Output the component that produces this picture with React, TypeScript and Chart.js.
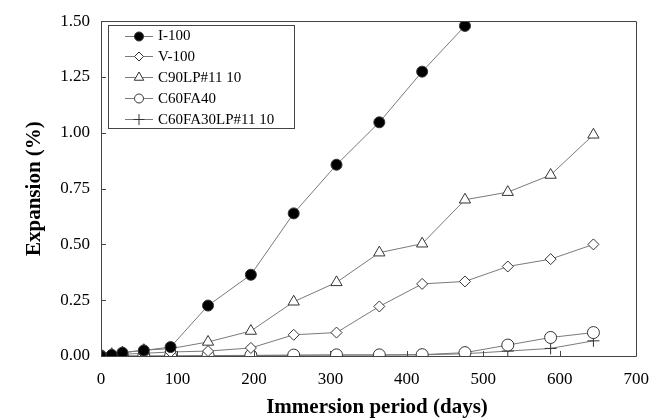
import React, { useEffect, useRef } from "react";
import { Chart, registerables } from "chart.js";
import { drawPoint } from "chart.js/helpers";

Chart.register(...registerables);

// ---- data ----
const days = [0, 14, 28, 56, 91, 140, 196, 252, 308, 364, 420, 476, 532, 588, 644];
const seriesNames = ["I-100", "V-100", "C90LP#11 10", "C60FA40", "C60FA30LP#11 10"];
const i100 = [0, 0.005, 0.015, 0.025, 0.04, 0.226, 0.364, 0.639, 0.857, 1.047, 1.274, 1.479];
const v100 = [0, 0.004, 0.008, 0.012, 0.018, 0.022, 0.036, 0.095, 0.105, 0.222, 0.323, 0.334, 0.401, 0.434, 0.5];
const c90lp = [0, 0.008, 0.015, 0.026, 0.033, 0.063, 0.112, 0.243, 0.33, 0.463, 0.503, 0.7, 0.734, 0.811, 0.991];
const c60fa40 = [0, 0, 0, 0, 0, 0.002, 0.003, 0.004, 0.005, 0.005, 0.006, 0.015, 0.049, 0.083, 0.105];
const c60fa30lp = [0, 0, 0, 0, 0, 0.001, 0.002, 0.003, 0.004, 0.004, 0.005, 0.01, 0.022, 0.034, 0.068];
const xTicks = [0, 100, 200, 300, 400, 500, 600, 700];
const yTicks = [0, 0.25, 0.5, 0.75, 1.0, 1.25, 1.5];
const xTitle = "Immersion period (days)";
const yTitle = "Expansion (%)";

const FONT = "'Liberation Serif', 'Times New Roman', serif";
const LINE = "#7a7a7a";
const EDGE = "#333333";

function toPoints(vals: number[]) {
  return vals.map((v, i) => ({ x: days[i], y: v }));
}

const styles = [
  { pointStyle: "circle", radius: 5.5, bg: "#000000", legendR: 4.5 },
  { pointStyle: "rectRot", radius: 5.5, bg: "#ffffff", legendR: 4.5 },
  { pointStyle: "triangle", radius: 6.5, bg: "#ffffff", legendR: 5.5 },
  { pointStyle: "circle", radius: 6, bg: "#ffffff", legendR: 4.5 },
  { pointStyle: "cross", radius: 6, bg: "#ffffff", legendR: 5.5 },
];

const frameAndTicks = {
  id: "frameAndTicks",
  afterDatasetsDraw(chart: any) {
    const { ctx, chartArea } = chart;
    const { left, right, top, bottom } = chartArea;
    const xs = chart.scales.x;
    const ys = chart.scales.y;
    ctx.save();
    ctx.strokeStyle = "#444444";
    ctx.lineWidth = 1;
    ctx.beginPath();
    ctx.rect(Math.round(left) + 0.5, Math.round(top) + 0.5, Math.round(right - left), Math.round(bottom - top));
    ctx.stroke();
    ctx.beginPath();
    for (const t of xTicks) {
      const px = Math.round(xs.getPixelForValue(t)) + 0.5;
      ctx.moveTo(px, bottom);
      ctx.lineTo(px, bottom - 5);
    }
    for (const t of yTicks) {
      const py = Math.round(ys.getPixelForValue(t)) + 0.5;
      ctx.moveTo(left, py);
      ctx.lineTo(left + 5, py);
    }
    ctx.stroke();
    ctx.restore();
  },
  afterDraw(chart: any) {
    const { ctx } = chart;
    ctx.save();
    // x axis title
    ctx.font = `bold 21px ${FONT}`;
    ctx.fillStyle = "#000";
    ctx.textAlign = "center";
    ctx.textBaseline = "middle";
    ctx.fillText(xTitle, 377, 408);
    // legend box
    ctx.textAlign = "left";
    const bx = 108.5, by = 25.5, bw = 186, bh = 103;
    ctx.fillStyle = "#ffffff";
    ctx.fillRect(bx, by, bw, bh);
    ctx.strokeStyle = "#444444";
    ctx.lineWidth = 1;
    ctx.strokeRect(bx, by, bw, bh);
    ctx.font = `15px ${FONT}`;
    ctx.textBaseline = "middle";
    seriesNames.forEach((name, i) => {
      const y = 35.5 + i * 20.8;
      const st = styles[i];
      ctx.strokeStyle = LINE;
      ctx.lineWidth = 1;
      ctx.beginPath();
      ctx.moveTo(125, Math.round(y) + 0.5);
      ctx.lineTo(153, Math.round(y) + 0.5);
      ctx.stroke();
      ctx.fillStyle = st.bg;
      ctx.strokeStyle = EDGE;
      ctx.lineWidth = 1;
      drawPoint(ctx, { pointStyle: st.pointStyle as any, radius: st.legendR, rotation: 0, borderWidth: 1 } as any, 139, Math.round(y) + 0.5);
      ctx.fillStyle = "#000000";
      ctx.fillText(name, 158, y + 1);
    });
    ctx.restore();
  },
};

export default function App() {
  const ref = useRef<HTMLCanvasElement | null>(null);
  useEffect(() => {
    document.body.style.margin = "0";
    const canvas = ref.current!;
    const allVals = [i100, v100, c90lp, c60fa40, c60fa30lp];
    const chart = new Chart(canvas, {
      type: "line",
      data: {
        datasets: allVals.map((vals, i) => ({
          label: seriesNames[i],
          data: toPoints(vals),
          borderColor: LINE,
          borderWidth: 1,
          pointStyle: styles[i].pointStyle as any,
          pointRadius: styles[i].radius,
          pointBackgroundColor: styles[i].bg,
          pointBorderColor: EDGE,
          pointBorderWidth: 1,
          fill: false,
          tension: 0,
        })),
      },
      options: {
        responsive: false,
        animation: false,
        layout: { padding: { left: 0, top: 18, right: 24, bottom: 0 } },
        plugins: { legend: { display: false }, tooltip: { enabled: false } },
        scales: {
          x: {
            type: "linear",
            min: 0,
            max: 700,
            afterFit(s: any) { s.height = 63; },
            afterBuildTicks(s: any) { s.ticks = xTicks.map((v) => ({ value: v })); },
            grid: { display: false, drawTicks: false },
            border: { display: false },
            ticks: { color: "#000", padding: 13, font: { family: FONT, size: 17 }, maxRotation: 0 },
            title: { display: false, text: xTitle },
          },
          y: {
            type: "linear",
            min: 0,
            max: 1.5,
            afterFit(s: any) { s.width = 101; },
            afterBuildTicks(s: any) { s.ticks = yTicks.map((v) => ({ value: v })); },
            grid: { display: false, drawTicks: false },
            border: { display: false },
            ticks: {
              color: "#000",
              padding: 11,
              font: { family: FONT, size: 17 },
              callback: (v: any) => Number(v).toFixed(2),
            },
            title: {
              display: true,
              text: yTitle,
              color: "#000",
              font: { family: FONT, size: 21, weight: "bold", lineHeight: 1 },
              padding: { top: 24, bottom: 0 },
            },
          },
        },
      },
      plugins: [frameAndTicks],
    } as any);
    return () => chart.destroy();
  }, []);
  return <canvas ref={ref} width={662} height={419} style={{ display: "block" }} />;
}
